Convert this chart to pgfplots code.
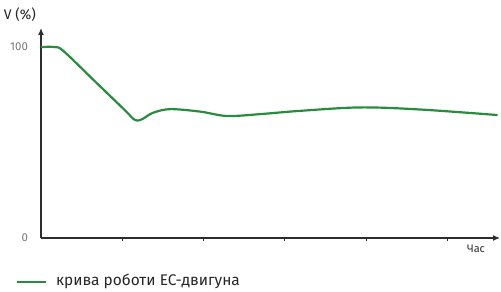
\documentclass[border=0pt]{standalone}
\usepackage{pgfplots}
\pgfplotsset{compat=1.18}
\usetikzlibrary{arrows.meta}
\usepackage{fontspec}
\setmainfont{Fira Sans}
\definecolor{curve}{RGB}{40,140,62}
\definecolor{axc}{RGB}{45,45,45}
\definecolor{lab}{RGB}{120,120,120}
\begin{document}
\begin{tikzpicture}
\path[use as bounding box] (-41bp,-54bp) rectangle (460bp,238bp);
\begin{axis}[
  at={(0,0)}, anchor=origin,
  scale only axis, width=459bp, height=210bp,
  xmin=0, xmax=5.65, ymin=0, ymax=110,
  axis lines=left,
  axis line style={axc, line width=1.1bp, -{Latex[length=7bp,width=6bp]}},
  xtick={1,2,3,4,5}, xticklabels={},
  ytick={0,100}, yticklabels={0,100},
  tick style={axc, line width=0.9bp},
  major tick length=3bp,
  x tick style={yshift=-1.5bp},
  y tick style={draw=none},
  yticklabel style={lab, font=\fontsize{11.5}{12}\selectfont, xshift=-8bp},
  /pgf/number format/assume math mode=true,
  clip=false,
]
\addplot[curve, line width=2.2bp, smooth, tension=0.55] coordinates {
 (0,100) (0.17,100) (0.28,97.8) (0.68,81.4) (1.05,66.2) (1.13,62.6) (1.19,61.5) (1.26,62.6)
 (1.38,65.6) (1.59,67.5) (1.96,66.2) (2.29,63.9) (2.70,64.9) (3.19,66.6) (3.93,68.4)
 (4.67,67.3) (5.62,64.4)
};
\end{axis}
\node[axc, font=\fontsize{11}{12}\selectfont] at (435bp,-11bp) {Час};
\node[black!85, font=\fontsize{14}{16}\selectfont] at (-21bp,223bp) {V (\%)};
\draw[curve, line width=2.2bp] (-24bp,-44bp) -- (5bp,-44bp);
\node[black!85, anchor=west, inner sep=0pt, font=\fontsize{15.5}{17}\selectfont] at (15bp,-43.5bp) {крива роботи ЕС-двигуна};
\end{tikzpicture}
\end{document}
